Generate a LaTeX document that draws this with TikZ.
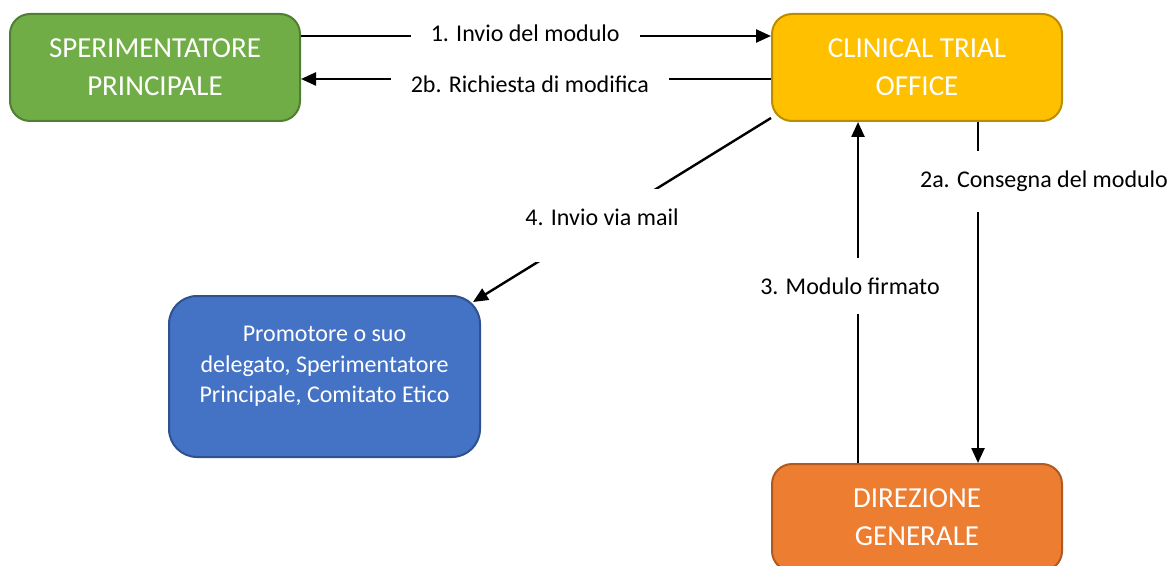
\documentclass[tikz,border=0pt]{standalone}
\usepackage{fontspec}
\setmainfont{Carlito}
\usetikzlibrary{arrows.meta}
\definecolor{verde}{HTML}{70AD47}
\definecolor{verdebordo}{HTML}{507E32}
\definecolor{giallo}{HTML}{FFC000}
\definecolor{giallobordo}{HTML}{BC8C00}
\definecolor{blu}{HTML}{4472C4}
\definecolor{blubordo}{HTML}{2F528F}
\definecolor{arancio}{HTML}{ED7D31}
\definecolor{aranciobordo}{HTML}{AE5A21}
\tikzset{
  box/.style={draw, line width=1pt, rounded corners=10pt, minimum width=145pt,
    minimum height=53.5pt, align=center, text=white, font=\fontsize{14.5}{19}\selectfont},
  lbl/.style={fill=white, inner sep=10pt, font=\fontsize{12}{14}\selectfont},
  freccia/.style={line width=1.2pt, -{Triangle[length=7.5pt,width=6.5pt]}}
}
\begin{document}
\begin{tikzpicture}[x=0.5pt,y=-0.5pt]
\useasboundingbox (0,0) rectangle (1170,566);
\node[box, fill=verde, draw=verdebordo](sper) at (155,67.5) {SPERIMENTATORE\\PRINCIPALE};
\node[box, fill=giallo, draw=giallobordo](cto) at (917,67.5) {CLINICAL TRIAL\\OFFICE};
\node[box, fill=arancio, draw=aranciobordo](dir) at (917,517.5) {DIREZIONE\\GENERALE};
\node[box, fill=blu, draw=blubordo, rounded corners=14pt, minimum width=155.5pt, minimum height=80.5pt](promo) at (324.5,376.5) {};
\node[text=white, align=center, font=\fontsize{12}{15.25}\selectfont](promotxt) at ([yshift=5pt]promo.center) {Promotore o suo\\delegato, Sperimentatore\\Principale, Comitato Etico};
%
\draw[freccia]([yshift=15.75pt]sper.east) -- ([yshift=15.75pt]cto.west) node[lbl, pos=0.477, yshift=1.5pt]{1. Invio del modulo};
\draw[freccia]([yshift=-5.75pt]cto.west) -- ([yshift=-5.75pt]sper.east) node[lbl, pos=0.513, yshift=-2.5pt]{2b. Richiesta di modifica};
\draw[freccia]([xshift=30.5pt]cto.south) -- ([xshift=30.5pt]dir.north) node[lbl, pos=0.175, xshift=33pt]{2a. Consegna del modulo};
\draw[freccia]([xshift=-29.5pt]dir.north) -- ([xshift=-29.5pt]cto.south) node[lbl, pos=0.519, xshift=-4pt]{3. Modulo firmato};
\draw[freccia]([yshift=2pt]cto.south west) -- ([xshift=-4pt,yshift=-3.5pt]promo.north east) node[lbl, pos=0.567, yshift=-1.5pt, text depth=8pt]{4. Invio via mail};
\end{tikzpicture}
\end{document}
